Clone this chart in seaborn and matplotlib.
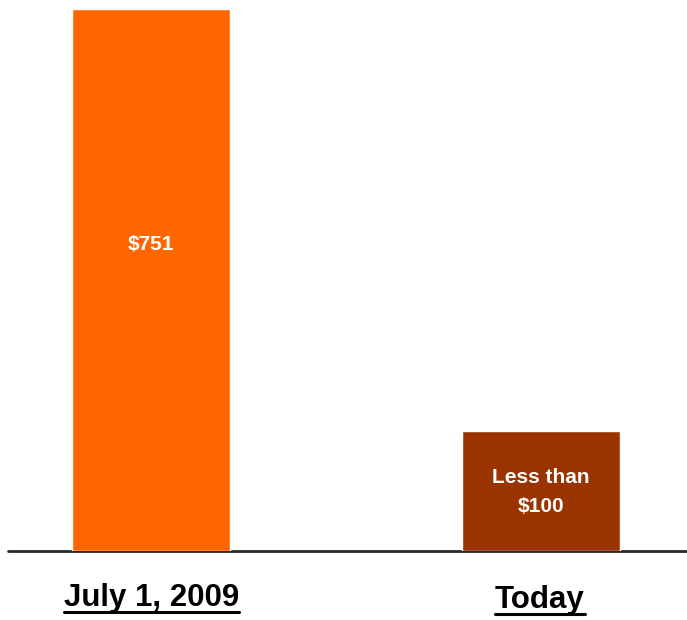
import pandas as pd
import matplotlib.pyplot as plt
import seaborn as sns
from matplotlib.lines import Line2D
from matplotlib.transforms import blended_transform_factory

# dati
categorie = ['July 1, 2009', 'Today']
valori = [751, 166]
etichette_barre = ['$751', 'Less than\n$100']
pos_etichette = [425, 82]
colori = ['#FF6600', '#993300']

sns.set_style('white')
plt.rcParams['font.family'] = ['Liberation Sans', 'DejaVu Sans']

df = pd.DataFrame({'periodo': categorie, 'costo': valori})

fig = plt.figure(figsize=(6.87, 6.2), dpi=100)
ax = fig.add_axes([8 / 687, 69 / 620, 679 / 687, 542 / 620])

ax.axhline(0, color='#2a2a2a', lw=2, zorder=1, clip_on=False)
sns.barplot(data=df, x='periodo', y='costo', hue='periodo', palette=colori,
            legend=False, width=0.405, saturation=1, ax=ax, zorder=2)

for i, (testo, y) in enumerate(zip(etichette_barre, pos_etichette)):
    ax.text(i, y, testo, ha='center', va='center', color='white',
            fontsize=15, fontweight='bold', linespacing=1.65)

ax.set_xlim(-0.367, 1.374)
ax.set_ylim(0, 751)
ax.set_xticks([])
ax.set_yticks([])
ax.set_xlabel('')
ax.set_ylabel('')
sns.despine(ax=ax, left=True, bottom=True)

# etichette sottolineate sotto le barre
trans = blended_transform_factory(ax.transData, fig.transFigure)
baseline_y = [14 / 620, 12 / 620]
fig.canvas.draw()
renderer = fig.canvas.get_renderer()
for i, (cat, by) in enumerate(zip(categorie, baseline_y)):
    t = ax.text(i - 0.003 * i, by, cat, transform=trans, ha='center', va='baseline',
                fontsize=22.5, fontweight='bold', color='black')
    bb = t.get_window_extent(renderer=renderer)
    x0, x1 = bb.x0 / fig.bbox.width, bb.x1 / fig.bbox.width
    yline = by - 6 / 620
    fig.add_artist(Line2D([x0, x1], [yline, yline], transform=fig.transFigure,
                          color='black', lw=2.2))

fig.savefig('out.png', dpi=100)
